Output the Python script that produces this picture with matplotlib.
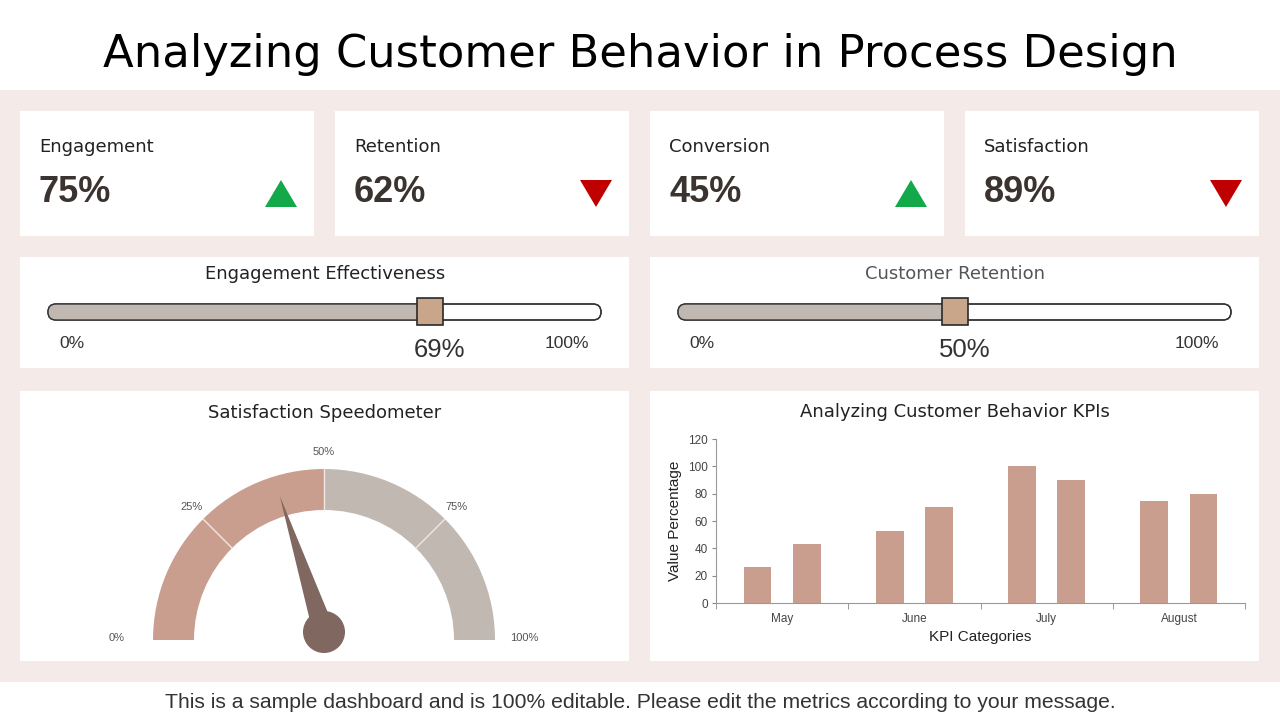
import matplotlib
matplotlib.use("Agg")
import matplotlib.pyplot as plt
from matplotlib.patches import Rectangle, FancyBboxPatch, Wedge, Circle, Polygon
import numpy as np

# ---------------- data ----------------
title = "Analyzing Customer Behavior in Process Design"
kpi_labels = ["Engagement", "Retention", "Conversion", "Satisfaction"]
kpi_values = [75, 62, 45, 89]
kpi_trend = ["up", "down", "up", "down"]

slider_titles = ["Engagement Effectiveness", "Customer Retention"]
slider_values = [69, 50]

gauge_title = "Satisfaction Speedometer"
gauge_value = 40
gauge_ticks = [0, 25, 50, 75, 100]

bar_title = "Analyzing Customer Behavior KPIs"
bar_categories = ["May", "June", "July", "August"]
series_a = [26, 53, 100, 75]
series_b = [43, 70, 90, 80]
bar_yticks = [0, 20, 40, 60, 80, 100, 120]

footer = "This is a sample dashboard and is 100% editable. Please edit the metrics according to your message."

# ---------------- style ----------------
W, H = 1280, 720
BG_PINK = "#F4EAE7"
GREEN = "#13A84A"
RED = "#C00000"
DARK = "#3A3330"
BAR_COL = "#C99E8F"
GREY = "#C1B8B2"
TAN = "#C9A68A"
NEEDLE = "#806860"
CG = ["DejaVu Sans"]
ARIAL = ["Liberation Sans", "DejaVu Sans"]

fig = plt.figure(figsize=(12.8, 7.2), dpi=100)
ax = fig.add_axes([0, 0, 1, 1])
ax.set_xlim(0, W)
ax.set_ylim(0, H)
ax.axis("off")


def Y(y):
    return H - y


def box(x0, y0, x1, y1, color="white", z=1):
    ax.add_patch(Rectangle((x0, Y(y1)), x1 - x0, y1 - y0, facecolor=color,
                           edgecolor="none", zorder=z))


# background band
box(0, 90, W, 682, BG_PINK, z=0)

ax.text(640, Y(54), title, ha="center", va="center", fontsize=32.3,
        family=CG, color="black")

# ---------------- KPI cards ----------------
card_x = [20, 335, 650, 965]
for i, (lab, val, tr) in enumerate(zip(kpi_labels, kpi_values, kpi_trend)):
    x0 = card_x[i]
    box(x0, 111, x0 + 294, 236)
    ax.text(x0 + 19, Y(147), lab, ha="left", va="center", fontsize=13,
            family=CG, color="#222222")
    ax.text(x0 + 19, Y(193), f"{val}%", ha="left", va="center", fontsize=26,
            family=ARIAL, weight="bold", color=DARK)
    tx = x0 + 261
    if tr == "up":
        pts = [(tx - 16, Y(207)), (tx + 16, Y(207)), (tx, Y(180))]
        col = GREEN
    else:
        pts = [(tx - 16, Y(180)), (tx + 16, Y(180)), (tx, Y(207))]
        col = RED
    ax.add_patch(Polygon(pts, closed=True, facecolor=col, edgecolor="none", zorder=3))

# ---------------- sliders ----------------
slider_panels = [20, 650]
for i, (st, sv) in enumerate(zip(slider_titles, slider_values)):
    x0 = slider_panels[i]
    box(x0, 257, x0 + 609, 368)
    ax.text(x0 + 305, Y(274), st, ha="center", va="center", fontsize=13,
            family=CG, color="#222222" if i == 0 else "#555555")
    bx0, bx1 = x0 + 28, x0 + 581
    by0, by1 = 304, 320
    r = (by1 - by0) / 2
    track = FancyBboxPatch((bx0, Y(by1)), bx1 - bx0, by1 - by0,
                           boxstyle=f"round,pad=0,rounding_size={r}",
                           facecolor="white", edgecolor="#333333", lw=1.0, zorder=2)
    ax.add_patch(track)
    pos = bx0 + (bx1 - bx0) * sv / 100
    fill = Rectangle((bx0, Y(by1)), pos - bx0, by1 - by0, facecolor=GREY,
                     edgecolor="none", zorder=3)
    ax.add_patch(fill)
    fill.set_clip_path(track)
    outline = FancyBboxPatch((bx0, Y(by1)), bx1 - bx0, by1 - by0,
                             boxstyle=f"round,pad=0,rounding_size={r}",
                             facecolor="none", edgecolor="#333333", lw=1.0, zorder=4)
    ax.add_patch(outline)
    ax.add_patch(Rectangle((pos - 13, Y(325)), 26, 27, facecolor=TAN,
                           edgecolor="#2A2A2A", lw=1.2, zorder=5))
    ax.text(x0 + 52, Y(344), "0%", ha="center", va="center", fontsize=12.5,
            family=ARIAL, color="#333333")
    ax.text(x0 + 547, Y(344), "100%", ha="center", va="center", fontsize=12.5,
            family=ARIAL, color="#333333")
    ax.text(pos + 10, Y(350), f"{sv}%", ha="center", va="center", fontsize=18.5,
            family=ARIAL, color="#333333")

# ---------------- gauge ----------------
box(20, 391, 629, 661)
box(650, 391, 1259, 661)
ax.text(325, Y(413), gauge_title, ha="center", va="center", fontsize=13,
        family=CG, color="#222222")
cx, cy = 324, Y(640)
r_out, r_w = 171, 41
ax.add_patch(Wedge((cx, cy), r_out, 90, 180, width=r_w, facecolor=BAR_COL,
                   edgecolor="none", zorder=2))
ax.add_patch(Wedge((cx, cy), r_out, 0, 90, width=r_w, facecolor=GREY,
                   edgecolor="none", zorder=2))
for t in [25, 50, 75]:
    a = np.deg2rad(180 - 180 * t / 100)
    ax.plot([cx + (r_out - r_w) * np.cos(a), cx + r_out * np.cos(a)],
            [cy + (r_out - r_w) * np.sin(a), cy + r_out * np.sin(a)],
            color="#F3E6E2", lw=1.0, zorder=3)
for t in gauge_ticks:
    a = np.deg2rad(180 - 180 * t / 100)
    if t in (0, 100):
        ly = cy + 2
        lx = cx + (200 if t == 100 else -207)
    else:
        lx = cx + 188 * np.cos(a)
        ly = cy + 188 * np.sin(a)
    ax.text(lx, ly, f"{t}%", ha="center", va="center", fontsize=8,
            family=ARIAL, color="#555555")
a = np.deg2rad(180 - 180 * gauge_value / 100)
hub_r = 21
ncy = Y(632)
nl = 143
tip = (cx + nl * np.cos(a), ncy + nl * np.sin(a))
perp = a + np.pi / 2
bw = 11
p1 = (cx + bw * np.cos(perp), ncy + bw * np.sin(perp))
p2 = (cx - bw * np.cos(perp), ncy - bw * np.sin(perp))
ax.add_patch(Polygon([p1, tip, p2], closed=True, facecolor=NEEDLE,
                     edgecolor="none", zorder=4))
ax.add_patch(Circle((cx, ncy), hub_r, facecolor=NEEDLE, edgecolor="none", zorder=5))

# ---------------- bar chart ----------------
ax.text(955, Y(412), bar_title, ha="center", va="center", fontsize=13,
        family=CG, color="#222222")
bax = fig.add_axes([716 / W, (H - 603) / H, (1245 - 716) / W, (603 - 439) / H])
x = np.arange(len(bar_categories))
bw_ = 0.21
off = 0.186
bax.bar(x - off, series_a, width=bw_, color=BAR_COL, zorder=2)
bax.bar(x + off, series_b, width=bw_, color=BAR_COL, zorder=2)
bax.set_xlim(-0.5, len(bar_categories) - 0.5)
bax.set_ylim(0, 120)
bax.set_yticks(bar_yticks)
bax.set_xticks(x)
bax.set_xticklabels(bar_categories)
bax.set_xticks(np.arange(-0.5, len(bar_categories), 1), minor=True)
bax.tick_params(axis="x", which="major", length=0, pad=7, labelsize=8.5,
                labelcolor="#444444")
bax.tick_params(axis="x", which="minor", length=4, color="#888888")
bax.tick_params(axis="y", length=3, color="#888888", labelsize=8.5,
                labelcolor="#444444", pad=3)
for lab in bax.get_xticklabels() + bax.get_yticklabels():
    lab.set_family(ARIAL)
for s in ["top", "right"]:
    bax.spines[s].set_visible(False)
bax.spines["left"].set_color("#999999")
bax.spines["bottom"].set_color("#999999")
bax.patch.set_alpha(0)
bax.set_ylabel("Value Percentage", fontsize=11, family=ARIAL, color="#222222",
               labelpad=4)
bax.set_xlabel("KPI Categories", fontsize=11, family=ARIAL, color="#222222",
               labelpad=4)

# ---------------- footer ----------------
ax.text(640, Y(702), footer, ha="center", va="center", fontsize=15.2,
        family=ARIAL, color="#333333")

fig.savefig("out.png", dpi=100)
